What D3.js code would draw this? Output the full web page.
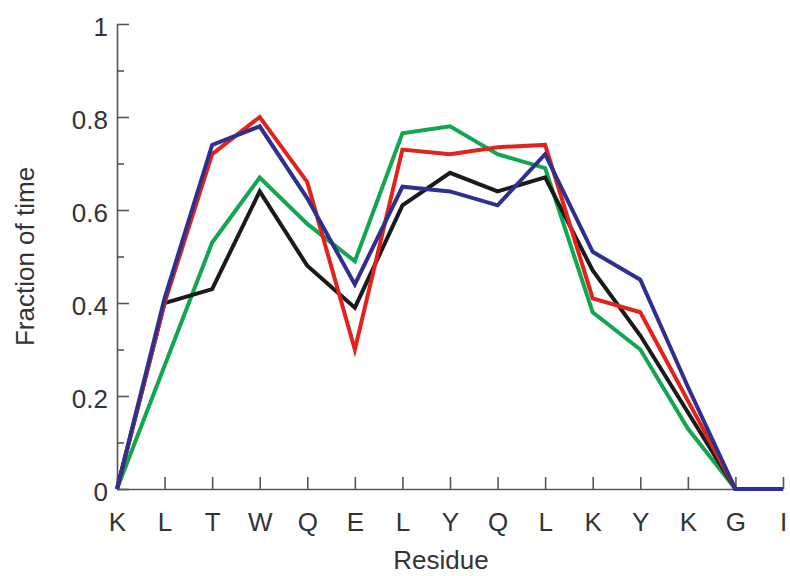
<!DOCTYPE html>
<html>
<head>
<meta charset="utf-8">
<script src="https://cdn.jsdelivr.net/npm/d3@7"></script>
<style>
	body { margin: 0; background: #fff; }
	#chart { width: 790px; height: 576px; }
	.axis text { font-family: "Liberation Sans", Arial, sans-serif; font-size: 26px; fill: #333; }
	.axis path, .axis line { stroke: #555; stroke-width: 1.6px; }
	.label { font-family: "Liberation Sans", Arial, sans-serif; font-size: 26px; fill: #333; }
</style>
</head>
<body>
<div id="chart"></div>
<script>
// residues along the peptide (labels repeat, so positions are indexed)
const residues = ["K", "L", "T", "W", "Q", "E", "L", "Y", "Q", "L", "K", "Y", "K", "G", "I"];

// fraction of time, one value per residue
const blackSeries = [0, 0.40, 0.43, 0.64, 0.48, 0.39, 0.61, 0.68, 0.64, 0.67, 0.47, 0.33, 0.165, 0, 0];
const redSeries   = [0, 0.40, 0.72, 0.80, 0.66, 0.30, 0.73, 0.72, 0.735, 0.74, 0.41, 0.38, 0.19, 0, 0];
const blueSeries  = [0, 0.41, 0.74, 0.78, 0.625, 0.44, 0.65, 0.64, 0.61, 0.72, 0.51, 0.45, 0.22, 0, 0];
const greenSeries = [0, 0.265, 0.53, 0.67, 0.57, 0.49, 0.765, 0.78, 0.72, 0.69, 0.38, 0.30, 0.13, 0, 0];

const yMajor = [0, 0.2, 0.4, 0.6, 0.8, 1];
const yMinor = [0.1, 0.3, 0.5, 0.7, 0.9];

const series = [
	{ name: "green", values: greenSeries, color: "#12a650" },
	{ name: "black", values: blackSeries, color: "#1a1a1a" },
	{ name: "red", values: redSeries, color: "#e3231b" },
	{ name: "blue", values: blueSeries, color: "#2f2f8f" }
];

const margin = { top: 24, right: 7, bottom: 87, left: 117 };
const width = 790 - margin.left - margin.right;
const height = 576 - margin.top - margin.bottom;

const svg = d3.select("#chart").append("svg")
	.attr("width", 790)
	.attr("height", 576)
	.append("g")
	.attr("transform", `translate(${margin.left},${margin.top})`);

const x = d3.scalePoint().domain(d3.range(residues.length)).range([0, width]);
const y = d3.scaleLinear().domain([0, 1]).range([height, 0]);

// minor y ticks
svg.append("g")
	.attr("class", "axis")
	.call(d3.axisLeft(y).tickValues(yMinor).tickSizeInner(-7).tickSizeOuter(0).tickFormat(""))
	.call(g => g.select(".domain").remove());

// major y ticks
svg.append("g")
	.attr("class", "axis axis--y")
	.call(d3.axisLeft(y).tickValues(yMajor).tickSizeInner(-12).tickSizeOuter(0).tickPadding(9).tickFormat(d => String(d)))
	.call(g => g.selectAll("text").attr("dy", "0.45em"));

// x axis, ticks pointing up
svg.append("g")
	.attr("class", "axis axis--x")
	.attr("transform", `translate(0,${height})`)
	.call(d3.axisBottom(x).tickSizeInner(-12).tickSizeOuter(0).tickPadding(24).tickFormat(i => residues[i]));

const line = d3.line()
	.x((d, i) => x(i))
	.y(d => y(d));

svg.selectAll("path.series").data(series).enter()
	.append("path")
	.attr("class", "series")
	.attr("fill", "none")
	.attr("stroke", d => d.color)
	.attr("stroke-width", 4)
	.attr("d", d => line(d.values));

// axis titles
svg.append("text")
	.attr("class", "label")
	.attr("transform", `translate(${34 - margin.left},${height / 2}) rotate(-90)`)
	.attr("text-anchor", "middle")
	.text("Fraction of time");

svg.append("text")
	.attr("class", "label")
	.attr("x", 441 - margin.left)
	.attr("y", 569 - margin.top)
	.attr("text-anchor", "middle")
	.text("Residue");
</script>
</body>
</html>
